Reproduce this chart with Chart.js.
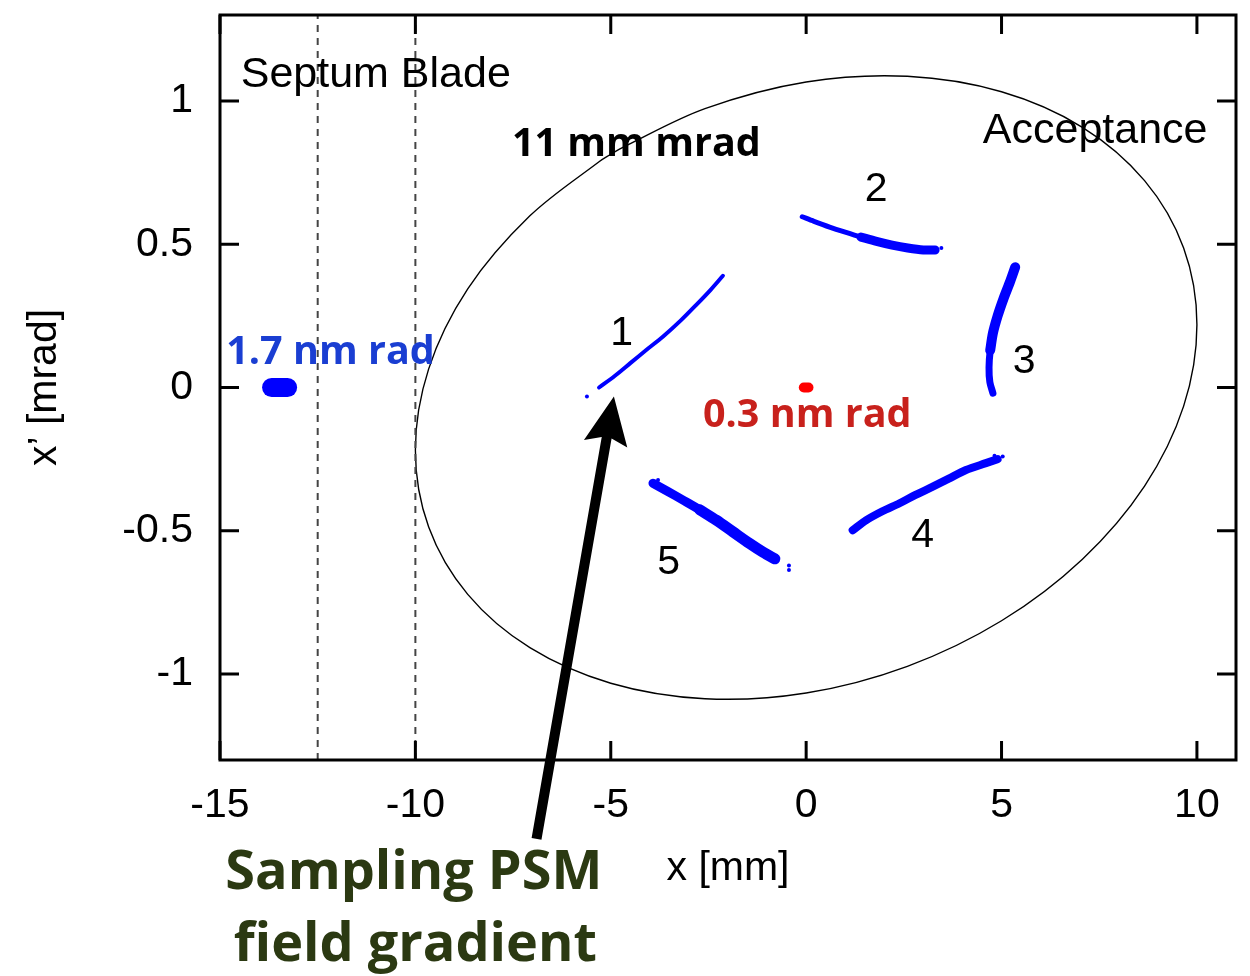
<!DOCTYPE html>
<html>
<head>
<meta charset="utf-8">
<title>Acceptance and turns in phase space</title>
<script src="https://cdn.jsdelivr.net/npm/chart.js@4.4.1/dist/chart.umd.min.js"></script>
<style>
  html, body { margin: 0; padding: 0; background: #fff; }
  #wrap { width: 1250px; height: 976px; }
</style>
</head>
<body>
<div id="wrap"><canvas id="chart" width="1250" height="976"></canvas></div>
<script>
(function () {
  'use strict';

  // axes
  var xRange = [-15, 11];
  var yRange = [-1.3, 1.3];
  var xTicks = [-15, -10, -5, 0, 5, 10];
  var yTicks = [-1, -0.5, 0, 0.5, 1];

  // septum blade edges (dashed)
  var septumX = [-12.5, -10];

  // acceptance ellipse (closed loop, starts on the flat upper-left side;
  // a close neighbour at each end keeps the join smooth)
  var acceptX = [-5.0, -5.30, -7.07, -8.66, -9.66, -10, -9.66, -8.66, -7.07, -5.0, -2.59, 0, 2.59,
                 5.0, 7.07, 8.66, 9.66, 10, 9.66, 8.66, 7.07, 5.0, 2.59, 0, -2.59, -4.69, -5.0];
  var acceptY = [0.814, 0.788, 0.599, 0.344, 0.065, -0.219, -0.487, -0.722, -0.908, -1.032, -1.086, -1.066, -0.973,
                 -0.814, -0.599, -0.344, -0.065, 0.219, 0.487, 0.722, 0.908, 1.032, 1.086, 1.066, 0.973, 0.838, 0.814];

  // injected beam (1.7 nm rad) and stored beam core (0.3 nm rad)
  var injX = [-13.68, -13.27];
  var injY = [0, 0];
  var coreX = [-0.06, 0.06];
  var coreY = [0, 0];

  // injected beam after turns 1..5 (centre of each band)
  var turn1X = [-5.61, -5.3, -4.9, -4.5, -4.1, -3.66, -3.2, -2.8, -2.45, -2.13];
  var turn1Y = [-0.031, 0.0, 0.04, 0.085, 0.13, 0.178, 0.235, 0.29, 0.34, 0.39];
  var turn2X = [-0.10, 0.2, 0.6, 1.0, 1.4, 1.8, 2.2, 2.6, 3.0, 3.3];
  var turn2Y = [0.596, 0.58, 0.56, 0.542, 0.525, 0.51, 0.497, 0.487, 0.48, 0.48];
  var turn3X = [5.35, 5.22, 5.05, 4.9, 4.78, 4.71, 4.68, 4.7, 4.78];
  var turn3Y = [0.42, 0.37, 0.31, 0.25, 0.19, 0.13, 0.07, 0.02, -0.02];
  var turn4X = [1.19, 1.54, 1.95, 2.39, 2.8, 3.24, 3.65, 4.09, 4.6, 4.9];
  var turn4Y = [-0.498, -0.463, -0.432, -0.404, -0.375, -0.346, -0.318, -0.288, -0.264, -0.25];
  var turn5X = [-3.92, -3.55, -3.15, -2.72, -2.30, -1.88, -1.45, -1.1, -0.8];
  var turn5Y = [-0.334, -0.362, -0.393, -0.427, -0.463, -0.503, -0.544, -0.575, -0.598];
  var strayX = [-3.79, -0.44, -0.44, 4.82, 5.03, 3.46, 5.37, -5.61];
  var strayY = [-0.323, -0.621, -0.637, -0.238, -0.241, 0.487, 0.42, -0.031];

  // labels
  var turnNames = ['1', '2', '3', '4', '5'];
  var turnNameX = [-4.72, 1.79, 5.58, 2.98, -3.52];
  var turnNameY = [0.149, 0.650, 0.050, -0.556, -0.651];

  var arrowFrom = [-6.90, -1.575];
  var arrowTo = [-4.92, -0.031];

  var HELV = "'Liberation Sans', Arial, sans-serif";
  var BOLD = "'Open Sans', sans-serif";

  function pts(xs, ys) {
    return xs.map(function (x, i) { return { x: x, y: ys[i] }; });
  }

  function band(xs, ys, width, color) {
    return {
      data: pts(xs, ys),
      showLine: true,
      borderColor: color || '#0000ff',
      borderWidth: width,
      borderCapStyle: 'round',
      borderJoinStyle: 'round',
      tension: 0.3,
      pointRadius: 0
    };
  }

  var datasets = [];
  septumX.forEach(function (x) {
    datasets.push({
      data: pts([x, x], yRange),
      showLine: true,
      borderColor: '#444',
      borderWidth: 2,
      borderDash: [7, 6],
      pointRadius: 0
    });
  });
  datasets.push({
    data: pts(acceptX, acceptY),
    showLine: true,
    borderColor: '#000',
    borderWidth: 1.4,
    tension: 0.33,
    pointRadius: 0
  });
  datasets.push(band(injX, injY, 19));
  datasets.push(band(coreX, coreY, 10, '#ff0000'));
  datasets.push(band(turn1X.slice(1), turn1Y.slice(1), 4));
  datasets.push(band(turn2X, turn2Y, 5));
  datasets.push(band(turn2X.slice(4), turn2Y.slice(4), 9));
  datasets.push(band(turn3X, turn3Y, 7));
  datasets.push(band(turn3X.slice(0, 6), turn3Y.slice(0, 6), 10));
  datasets.push(band(turn4X, turn4Y, 8));
  datasets.push(band(turn5X, turn5Y, 9));
  datasets.push(band(turn5X.slice(3), turn5Y.slice(3), 11));
  datasets.push({
    data: pts(strayX, strayY),
    backgroundColor: '#0000ff',
    borderWidth: 0,
    pointRadius: 2
  });

  function text(ctx, s, x, y, font, color, align) {
    ctx.font = font;
    ctx.fillStyle = color;
    ctx.textAlign = align || 'left';
    ctx.textBaseline = 'alphabetic';
    ctx.fillText(s, x, y);
  }

  var decorations = {
    id: 'decorations',
    afterDraw: function (chart) {
      var ctx = chart.ctx, a = chart.chartArea;
      var xs = chart.scales.x, ys = chart.scales.y;
      function px(v) { return xs.getPixelForValue(v); }
      function py(v) { return ys.getPixelForValue(v); }
      ctx.save();

      // frame and inward ticks on all four sides
      ctx.strokeStyle = '#000';
      ctx.lineWidth = 3;
      ctx.strokeRect(a.left, a.top, a.right - a.left, a.bottom - a.top);
      ctx.beginPath();
      xTicks.forEach(function (v) {
        var p = px(v);
        ctx.moveTo(p, a.bottom); ctx.lineTo(p, a.bottom - 19);
        ctx.moveTo(p, a.top); ctx.lineTo(p, a.top + 19);
      });
      yTicks.forEach(function (v) {
        var p = py(v);
        ctx.moveTo(a.left, p); ctx.lineTo(a.left + 19, p);
        ctx.moveTo(a.right, p); ctx.lineTo(a.right - 19, p);
      });
      ctx.stroke();

      // text in the plot
      text(ctx, 'Septum Blade', px(-14.47), py(1.050), '43px ' + HELV, '#000');
      text(ctx, 'Acceptance', px(4.52), py(0.852), '43px ' + HELV, '#000');
      text(ctx, '11 mm mrad', px(-7.53), py(0.808), 'bold 39.5px ' + BOLD, '#000');
      text(ctx, '1.7 nm rad', px(-14.84), py(0.083), 'bold 39.5px ' + BOLD, '#1a3ed2');
      text(ctx, '0.3 nm rad', px(-2.64), py(-0.137), 'bold 39.5px ' + BOLD, '#c8211c');
      turnNames.forEach(function (s, i) {
        text(ctx, s, px(turnNameX[i]), py(turnNameY[i]), '41px ' + HELV, '#000', 'center');
      });

      // arrow pointing at turn 1
      var x0 = px(arrowFrom[0]), y0 = py(arrowFrom[1]);
      var x1 = px(arrowTo[0]), y1 = py(arrowTo[1]);
      var len = Math.hypot(x1 - x0, y1 - y0);
      ctx.translate(x1, y1);
      ctx.rotate(Math.atan2(y1 - y0, x1 - x0));
      ctx.fillStyle = '#000';
      ctx.beginPath();
      ctx.moveTo(0, 0);
      ctx.lineTo(-48, 22);
      ctx.lineTo(-42, 5);
      ctx.lineTo(-len, 5);
      ctx.lineTo(-len, -5);
      ctx.lineTo(-42, -5);
      ctx.lineTo(-48, -22);
      ctx.closePath();
      ctx.fill();
      ctx.setTransform(1, 0, 0, 1, 0, 0);

      // caption under the arrow
      text(ctx, 'Sampling PSM', px(-10.04), py(-1.749), 'bold 54px ' + BOLD, '#2b3912', 'center');
      text(ctx, 'field gradient', px(-10.0), py(-2.0), 'bold 54px ' + BOLD, '#2b3912', 'center');
      ctx.restore();
    }
  };

  var tickFont = { family: HELV, size: 41 };

  new Chart(document.getElementById('chart'), {
    type: 'scatter',
    data: { datasets: datasets },
    options: {
      responsive: false,
      animation: false,
      devicePixelRatio: 1,
      layout: { padding: { left: 0, top: 15, right: 14, bottom: 0 } },
      plugins: { legend: { display: false }, tooltip: { enabled: false } },
      scales: {
        x: {
          type: 'linear',
          min: xRange[0],
          max: xRange[1],
          grid: { display: false, drawTicks: false },
          border: { display: false },
          afterBuildTicks: function (s) { s.ticks = xTicks.map(function (v) { return { value: v }; }); },
          afterFit: function (s) { s.height = 216; s.paddingLeft = 0; s.paddingRight = 0; },
          ticks: { font: tickFont, color: '#000', padding: 21, maxRotation: 0, autoSkip: false,
                   callback: function (v) { return String(v); } },
          title: { display: true, text: 'x [mm]', font: tickFont, color: '#000', padding: { top: 0, bottom: 83 } }
        },
        y: {
          type: 'linear',
          min: yRange[0],
          max: yRange[1],
          grid: { display: false, drawTicks: false },
          border: { display: false },
          afterBuildTicks: function (s) { s.ticks = yTicks.map(function (v) { return { value: v }; }); },
          afterFit: function (s) { s.width = 220; s.paddingTop = 0; s.paddingBottom = 0; },
          ticks: { font: tickFont, color: '#000', padding: 27, autoSkip: false,
                   callback: function (v) { return String(v); } },
          title: { display: true, text: 'x\u2019 [mrad]', font: tickFont, color: '#000', padding: { top: 20, bottom: 0 } }
        }
      }
    },
    plugins: [decorations]
  });
})();
</script>
</body>
</html>
